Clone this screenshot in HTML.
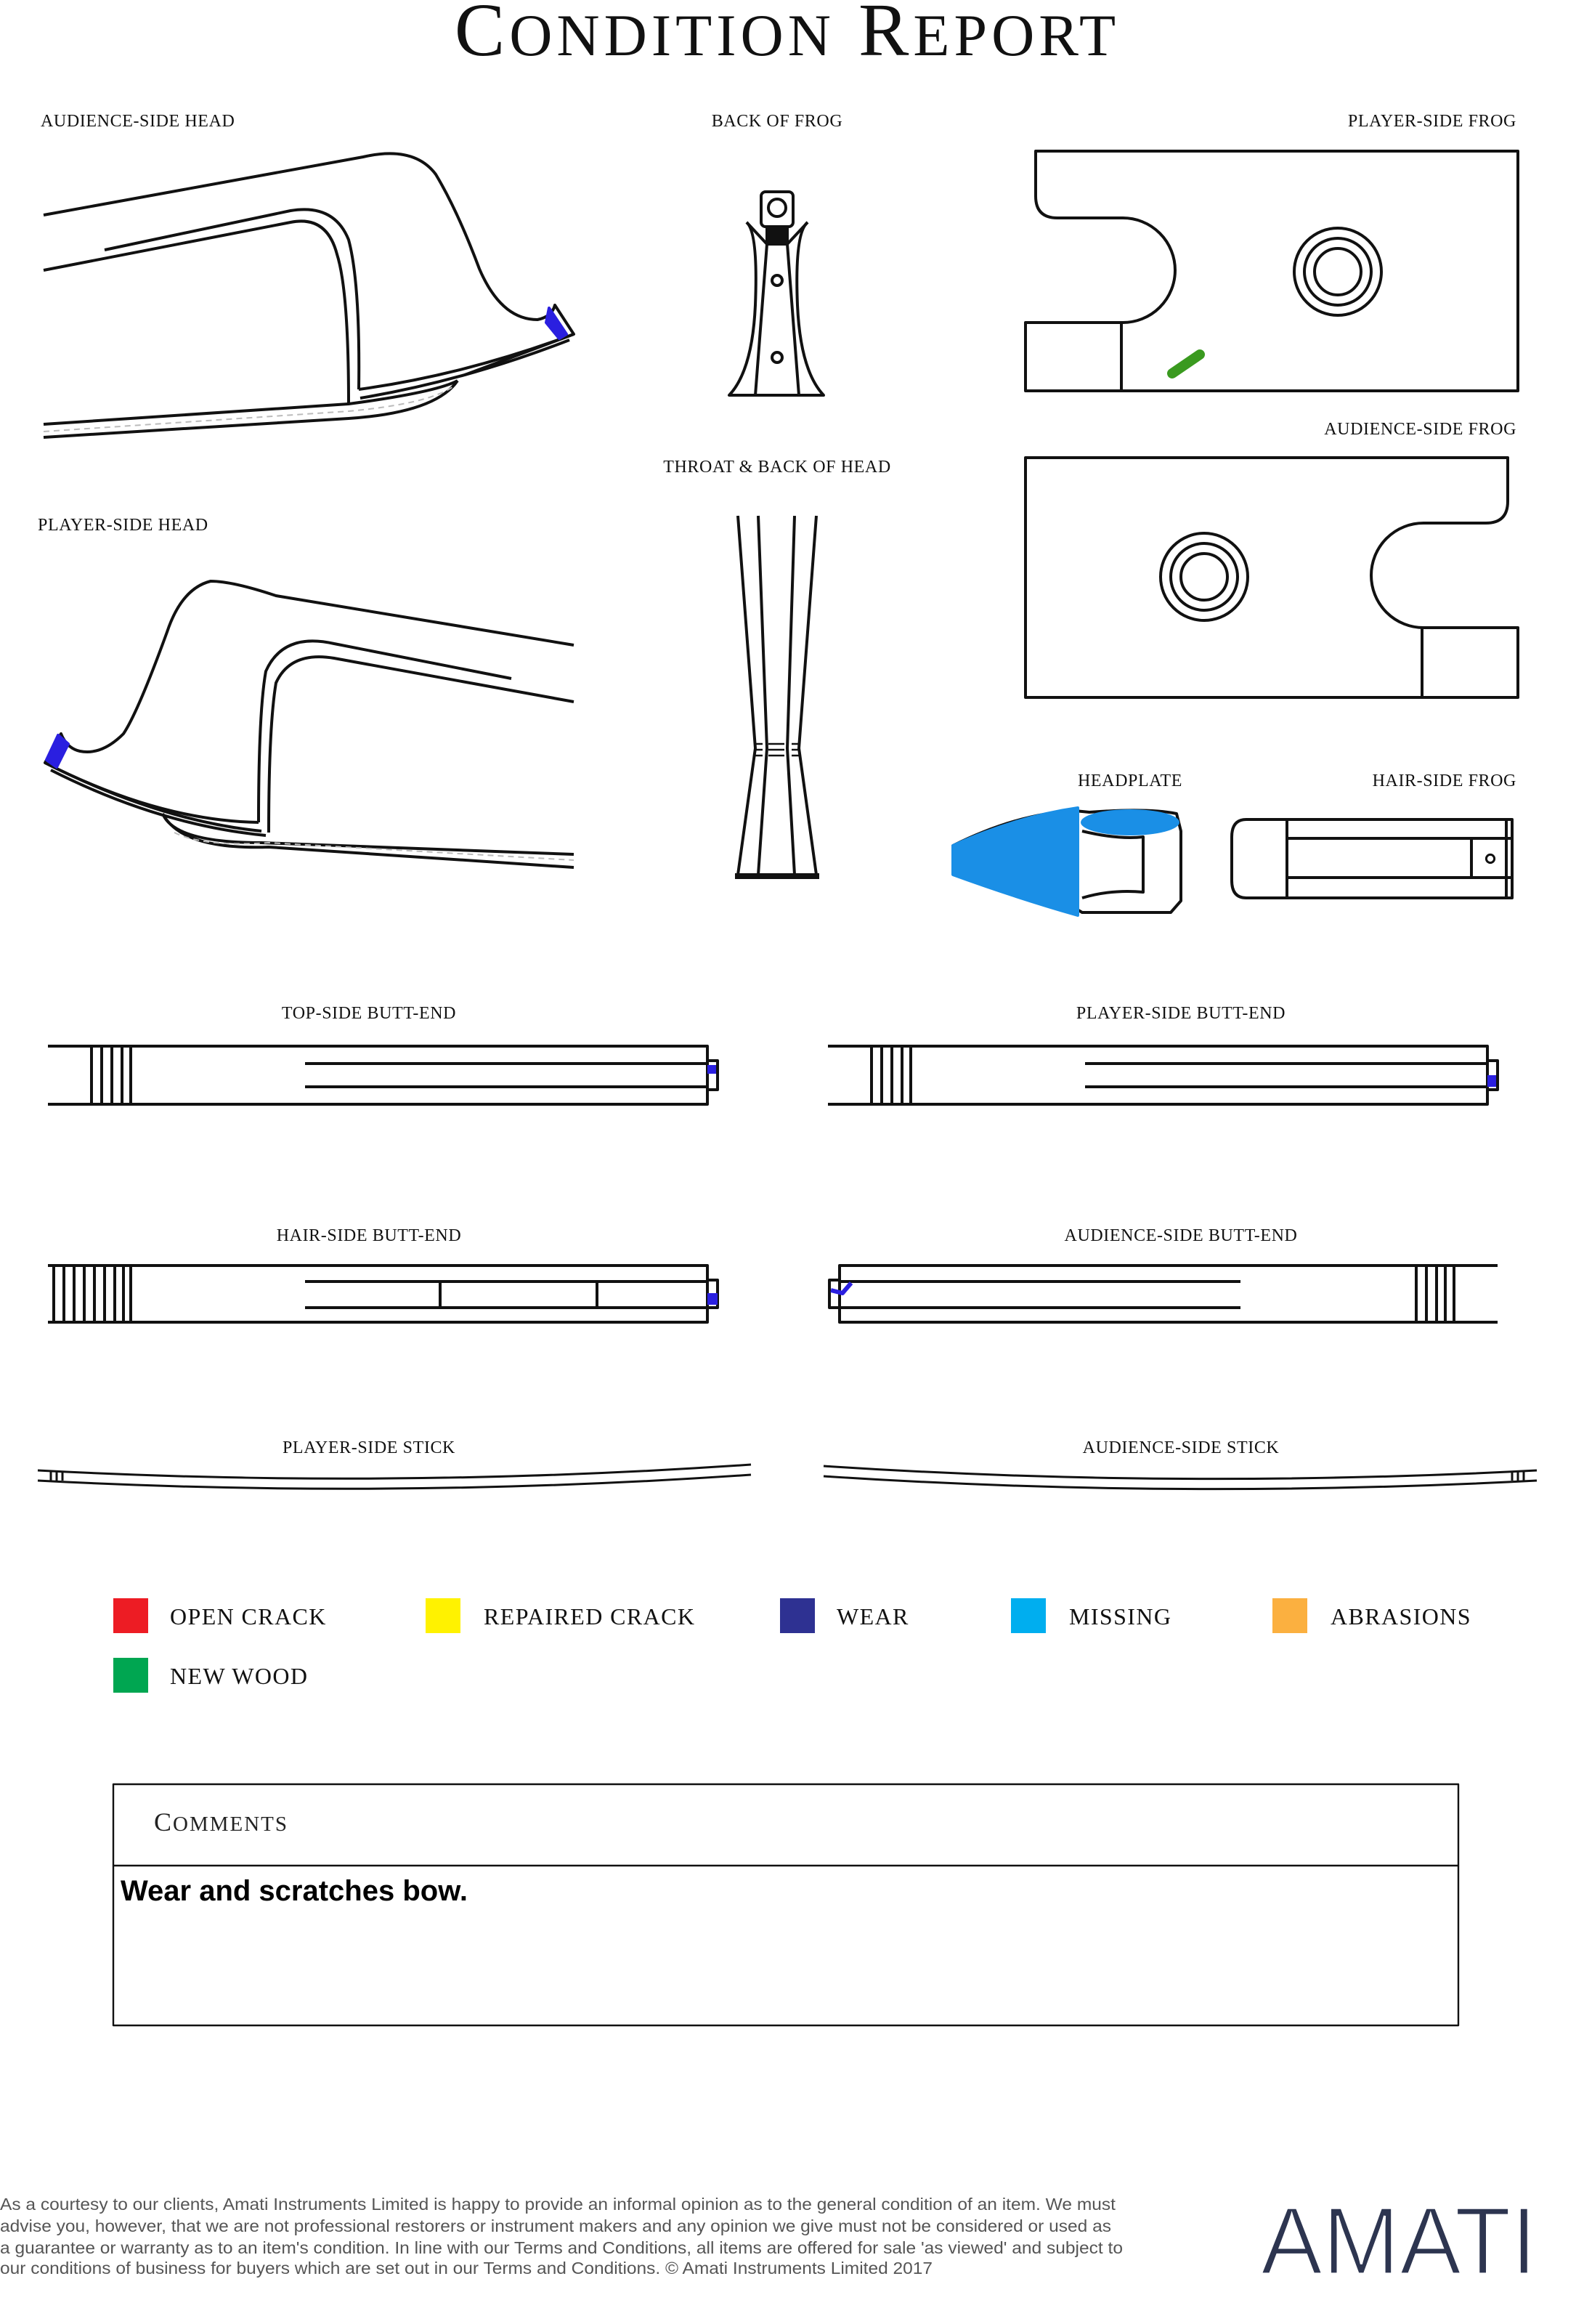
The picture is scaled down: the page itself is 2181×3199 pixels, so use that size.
<!DOCTYPE html>
<html><head><meta charset="utf-8"><style>
html,body{margin:0;padding:0;background:#fff;}
svg{display:block;}
.l{font-family:"Liberation Serif",serif;font-size:12px;letter-spacing:0.3px;fill:#111;}
.g{font-family:"Liberation Serif",serif;font-size:16px;letter-spacing:0.7px;fill:#111;}
.f{font-family:"Liberation Sans",sans-serif;font-size:11.6px;fill:#555;}
</style></head><body>
<svg width="2181" height="3199" viewBox="0 0 1090.5 1599.5" xmlns="http://www.w3.org/2000/svg">
<g fill="none" stroke="#111" stroke-width="2" stroke-linejoin="round">
<text x="542" y="38" text-anchor="middle" font-family="Liberation Serif,serif" font-size="52" fill="#111" stroke="none" letter-spacing="3">C<tspan font-size="41">ONDITION</tspan> R<tspan font-size="41">EPORT</tspan></text>

<!-- audience-side head -->
<path d="M30,148 L250,108 Q285,100 300,120 Q315,145 330,185 Q345,220 370,220 Q380,218 382,210 L395,230 L320,258"/>
<path d="M30,186 L200,153 Q225,148 232,175 Q240,200 240,278"/>
<path d="M72,172 L200,145 Q230,140 240,165 Q248,195 247,268"/>
<path d="M247,268 Q320,258 395,230"/>
<path d="M248,274 Q320,262 392,234"/>
<path d="M30,292 L240,278 Q300,270 315,262"/>
<path d="M30,301 L240,288 Q300,284 315,262"/>
<path d="M30,297 L240,283 Q295,278 312,266" stroke="#bbb" stroke-width="1" stroke-dasharray="4,3"/>
<path d="M378,212 L390,230 L385,233 L376,222 Z" fill="#2a1fe0" stroke="#2a1fe0"/>

<!-- player-side head -->
<path d="M395,444 L190,410 Q160,400 145,400 Q125,405 115,435 Q95,490 85,505 Q70,520 55,517 Q46,515 42,505 L31,525 Q110,565 180,572"/>
<path d="M395,483 L230,453 Q200,448 190,470 Q185,500 185,573"/>
<path d="M352,467 L230,443 Q195,435 183,462 Q178,490 178,566"/>
<path d="M31,525 Q110,565 178,566"/>
<path d="M35,530 Q110,568 183,575"/>
<path d="M112,560 Q120,580 180,580 L395,588"/>
<path d="M112,560 Q125,585 185,583 L395,597"/>
<path d="M120,573 Q140,583 185,580 L395,592" stroke="#bbb" stroke-width="1" stroke-dasharray="4,3"/>
<path d="M40,506 L47,512 L39,528 L32,523 Z" fill="#2a1fe0" stroke="#2a1fe0"/>

<!-- back of frog -->
<rect x="524" y="132" width="22" height="24" rx="3"/>
<circle cx="535" cy="143" r="6"/>
<rect x="528" y="156" width="14" height="12" fill="#111"/>
<path d="M514,153 Q522,160 520,210 Q518,255 502,272 L567,272 Q551,255 549,210 Q547,160 556,153"/>
<path d="M514,153 L528,168 M556,153 L542,168"/>
<path d="M528,168 L520,272 M542,168 L550,272"/>
<circle cx="535" cy="193" r="3.5"/>
<circle cx="535" cy="246" r="3.5"/>

<!-- throat -->
<path d="M508,355 L520,515 L508,602 M522,355 L528,515 L522,602"/>
<path d="M562,355 L550,515 L562,602 M547,355 L542,515 L547,602"/>
<path d="M506,603 L564,603" stroke-width="4"/>
<g stroke-width="1.2"><path d="M520,512h5M520,516h5M520,520h5M529,512h11M529,516h11M529,520h11M545,512h5M545,516h5M545,520h5"/></g>

<!-- player-side frog -->
<path d="M713,104 L1045,104 L1045,269 L706,269 L706,222 L773,222 A36,36 0 0 0 773,150 L728,150 Q713,150 713,135 Z"/>
<path d="M706,222 L706,269 M772,222 L772,269"/>
<circle cx="921" cy="187" r="30"/><circle cx="921" cy="187" r="23"/><circle cx="921" cy="187" r="16"/>
<path d="M807,257 L826,244" stroke="#3a9a1f" stroke-width="7" stroke-linecap="round"/>

<!-- audience-side frog -->
<path d="M706,315 L1038,315 L1038,345 Q1038,360 1023,360 L980,360 A36,36 0 0 0 980,432 L1045,432 L1045,480 L706,480 Z"/>
<path d="M979,432 L979,480"/>
<circle cx="829" cy="397" r="30"/><circle cx="829" cy="397" r="23"/><circle cx="829" cy="397" r="16"/>

<!-- headplate -->
<path d="M656,582 Q700,560 740,558 L750,559 Q790,556 810,560 L813,572 L813,620 L806,628 L745,628 L740,625 Q700,615 656,600 Z"/>
<path d="M745,572 Q770,578 787,576 L787,614 Q765,612 745,618"/>
<path d="M742,556 Q700,562 656,582 L656,602 Q700,618 742,630 Z" fill="#1a8fe6" stroke="#1a8fe6"/>
<ellipse cx="778" cy="566" rx="34" ry="9" fill="#1a8fe6" stroke="none"/>

<!-- hair-side frog -->
<path d="M858,564 L1041,564 L1041,618 L858,618 Q848,618 848,606 L848,576 Q848,564 858,564 Z"/>
<path d="M886,564 L886,618 M886,577 L1041,577 M886,604 L1041,604 M1013,577 L1013,604 M1037,564 L1037,618"/>
<circle cx="1026" cy="591" r="2.8" stroke-width="1.5"/>

<!-- butt-ends -->
<path d="M33,720 L487,720 L487,760 L33,760 M210,732 L487,732 M210,748 L487,748 M487,730 L494,730 L494,750 L487,750 M63,720V760 M70,720V760 M77,720V760 M84,720V760 M90,720V760"/>
<rect x="487" y="733" width="6" height="6" fill="#2a1fe0" stroke="none"/>
<path d="M570,720 L1024,720 L1024,760 L570,760 M747,732 L1024,732 M747,748 L1024,748 M1024,730 L1031,730 L1031,750 L1024,750 M600,720V760 M607,720V760 M614,720V760 M621,720V760 M627,720V760"/>
<rect x="1024" y="740" width="6" height="8" fill="#2a1fe0" stroke="none"/>
<path d="M33,871 L487,871 L487,910 L33,910 M210,882 L487,882 M210,900 L487,900 M303,882V900 M411,882V900 M487,881 L494,881 L494,900 L487,900 M37,871V910 M44,871V910 M51,871V910 M58,871V910 M65,871V910 M72,871V910 M79,871V910 M85,871V910 M90,871V910"/>
<rect x="487" y="890" width="7" height="8" fill="#2a1fe0" stroke="none"/>
<path d="M1031,871 L578,871 L578,910 L1031,910 M578,882 L854,882 M578,900 L854,900 M578,881 L571,881 L571,900 L578,900 M975,871V910 M982,871V910 M989,871V910 M995,871V910 M1001,871V910"/>
<path d="M572,888 L580,890 L586,883" stroke="#2a1fe0" stroke-width="3"/>

<!-- sticks -->
<g stroke-width="1.5">
<path d="M26,1012 Q270,1025 517,1008 M26,1019 Q270,1032 517,1015"/>
<path d="M35,1013V1019 M39,1013V1019 M43,1013V1019"/>
<path d="M567,1009 Q810,1025 1058,1012 M567,1016 Q810,1032 1058,1019"/>
<path d="M1041,1013V1019 M1045,1013V1019 M1049,1013V1019"/>
</g>

<rect x="78" y="1228" width="926" height="166" stroke-width="1.2"/>
<path d="M78,1284 L1004,1284" stroke-width="1.2"/>
</g>

<text class="l" x="28" y="87">AUDIENCE-SIDE HEAD</text>
<text class="l" x="535" y="87" text-anchor="middle">BACK OF FROG</text>
<text class="l" x="1044" y="87" text-anchor="end">PLAYER-SIDE FROG</text>
<text class="l" x="1044" y="299" text-anchor="end">AUDIENCE-SIDE FROG</text>
<text class="l" x="535" y="325" text-anchor="middle">THROAT &amp; BACK OF HEAD</text>
<text class="l" x="26" y="365">PLAYER-SIDE HEAD</text>
<text class="l" x="778" y="541" text-anchor="middle">HEADPLATE</text>
<text class="l" x="1044" y="541" text-anchor="end">HAIR-SIDE FROG</text>
<text class="l" x="254" y="701" text-anchor="middle">TOP-SIDE BUTT-END</text>
<text class="l" x="813" y="701" text-anchor="middle">PLAYER-SIDE BUTT-END</text>
<text class="l" x="254" y="854" text-anchor="middle">HAIR-SIDE BUTT-END</text>
<text class="l" x="813" y="854" text-anchor="middle">AUDIENCE-SIDE BUTT-END</text>
<text class="l" x="254" y="1000" text-anchor="middle">PLAYER-SIDE STICK</text>
<text class="l" x="813" y="1000" text-anchor="middle">AUDIENCE-SIDE STICK</text>

<rect x="78" y="1100" width="24" height="24" fill="#ed1c24"/>
<text class="g" x="117" y="1118">OPEN CRACK</text>
<rect x="293" y="1100" width="24" height="24" fill="#fff200"/>
<text class="g" x="333" y="1118">REPAIRED CRACK</text>
<rect x="537" y="1100" width="24" height="24" fill="#2e3192"/>
<text class="g" x="576" y="1118">WEAR</text>
<rect x="696" y="1100" width="24" height="24" fill="#00aeef"/>
<text class="g" x="736" y="1118">MISSING</text>
<rect x="876" y="1100" width="24" height="24" fill="#fbb040"/>
<text class="g" x="916" y="1118">ABRASIONS</text>
<rect x="78" y="1141" width="24" height="24" fill="#00a651"/>
<text class="g" x="117" y="1159">NEW WOOD</text>

<text x="106" y="1260" font-family="Liberation Serif,serif" font-size="18" fill="#222" letter-spacing="1">C<tspan font-size="14.5">OMMENTS</tspan></text>
<text x="83" y="1308" font-family="Liberation Sans,sans-serif" font-size="20" font-weight="bold" fill="#000">Wear and scratches bow.</text>

<text class="f" x="0" y="1521" textLength="768" lengthAdjust="spacingAndGlyphs">As a courtesy to our clients, Amati Instruments Limited is happy to provide an informal opinion as to the general condition of an item. We must</text>
<text class="f" x="0" y="1536" textLength="765" lengthAdjust="spacingAndGlyphs">advise you, however, that we are not professional restorers or instrument makers and any opinion we give must not be considered or used as</text>
<text class="f" x="0" y="1551" textLength="773" lengthAdjust="spacingAndGlyphs">a guarantee or warranty as to an item's condition. In line with our Terms and Conditions, all items are offered for sale 'as viewed' and subject to</text>
<text class="f" x="0" y="1565" textLength="642" lengthAdjust="spacingAndGlyphs">our conditions of business for buyers which are set out in our Terms and Conditions. © Amati Instruments Limited 2017</text>
<text x="868" y="1565" font-family="Liberation Sans,sans-serif" font-size="66" fill="#2d3550" stroke="#fff" stroke-width="1.6" paint-order="normal" textLength="190" lengthAdjust="spacingAndGlyphs">AMATI</text>
</svg>
</body></html>
